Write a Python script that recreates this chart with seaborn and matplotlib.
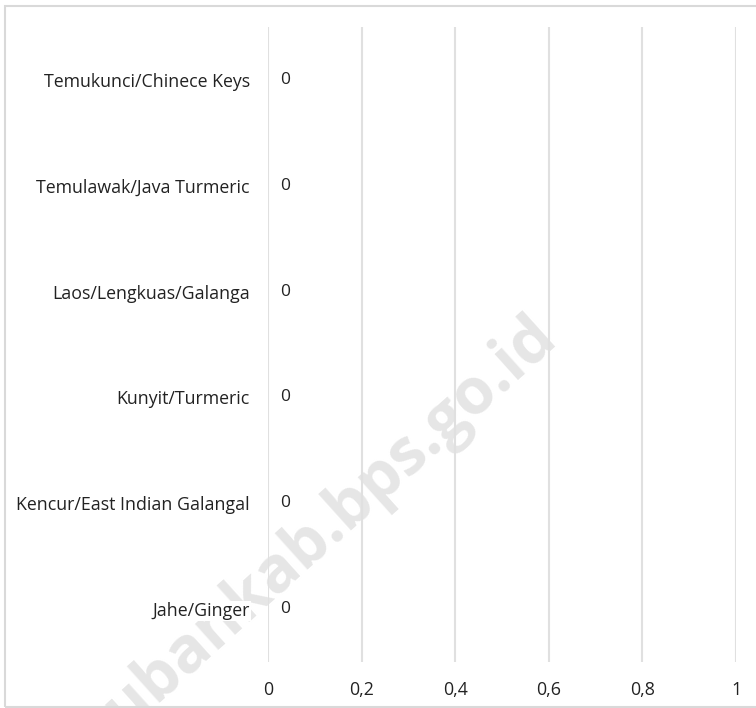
import pandas as pd
import matplotlib
matplotlib.use('Agg')
import matplotlib.pyplot as plt
import seaborn as sns
from matplotlib.patches import Rectangle
from matplotlib.ticker import FuncFormatter

# --- DATA ---
categories = ['Temukunci/Chinece Keys', 'Temulawak/Java Turmeric', 'Laos/Lengkuas/Galanga',
              'Kunyit/Turmeric', 'Kencur/East Indian Galangal', 'Jahe/Ginger']
values = [0, 0, 0, 0, 0, 0]
x_ticks = [0, 0.2, 0.4, 0.6, 0.8, 1]

df = pd.DataFrame({'Komoditas': categories, 'Nilai': values})

sns.set_theme(style='white')
plt.rcParams['font.family'] = ['Open Sans', 'DejaVu Sans']

fig = plt.figure(figsize=(7.56, 7.08), dpi=100)

# watermark (drawn behind the chart)
fig.text(0.425, 0.245, 'tubankab.bps.go.id', rotation=42, ha='center', va='center',
         fontsize=46, fontweight='bold', color='#e6e6e6', zorder=-1)

ax = fig.add_axes([0.3545, 0.065, 0.619, 0.897])
ax.patch.set_alpha(0)

sns.barplot(data=df, x='Nilai', y='Komoditas', orient='h', color='#4f81bd', ax=ax,
            width=0.6, linewidth=0)

# value labels
for cont in ax.containers:
    ax.bar_label(cont, labels=[str(v) for v in values], padding=9, fontsize=12.5, color='#222222')

ax.set_xlim(0, 1)
ax.set_ylim(5.5, -0.5)
ax.set_xticks(x_ticks)
ax.xaxis.set_major_formatter(FuncFormatter(lambda v, p: f'{v:g}'.replace('.', ',')))
ax.grid(axis='x', color='#e0e0e0', linewidth=1.5)
ax.set_axisbelow(True)
ax.set_xlabel('')
ax.set_ylabel('')
for s in ax.spines.values():
    s.set_visible(False)
ax.tick_params(axis='both', length=0, labelsize=12.8, colors='#222222')
ax.tick_params(axis='y', pad=13)
ax.tick_params(axis='x', pad=14)
for lbl in ax.get_yticklabels() + ax.get_xticklabels():
    lbl.set_bbox(dict(facecolor='white', edgecolor='none', pad=1))

# figure border
fig.patches.append(Rectangle((0.006, 0.002), 1.2, 0.99, transform=fig.transFigure,
                             fill=False, edgecolor='#d9d9d9', linewidth=1.5))

fig.savefig('out.png', dpi=100)
